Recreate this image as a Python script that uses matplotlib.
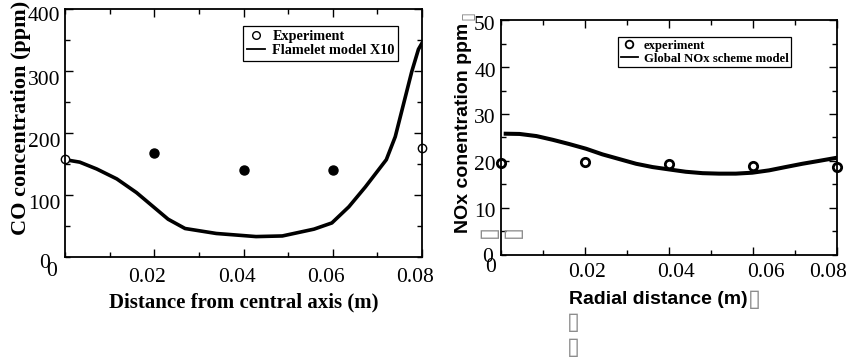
import matplotlib.pyplot as plt
import matplotlib.transforms as mtrans
from matplotlib.ticker import MultipleLocator
from matplotlib.lines import Line2D

# left panel: CO
co_exp_x = [0.0, 0.08]
co_exp_y = [158, 176]
co_fill_x = [0.02, 0.04, 0.06]
co_fill_y = [168, 140, 141]
co_mod_x = [0.0, 0.0033, 0.0071, 0.0116, 0.016, 0.0198, 0.0231, 0.0269, 0.0339,
            0.0428, 0.0487, 0.0558, 0.0598, 0.0636, 0.0673, 0.072, 0.074, 0.0777, 0.0792, 0.08]
co_mod_y = [157, 153, 142, 126, 104, 81, 61, 46, 38, 33, 34, 45, 55, 81, 113, 157, 194, 299, 335, 345]

# right panel: NOx
nox_exp_x = [0.0, 0.02, 0.04, 0.06, 0.08]
nox_exp_y = [19.6, 19.7, 19.4, 19.0, 18.8]
nox_mod_x = [0.0012, 0.0045, 0.0085, 0.0124, 0.0163, 0.0203, 0.0242, 0.0282, 0.0322, 0.0361,
             0.040, 0.044, 0.048, 0.0519, 0.0559, 0.0598, 0.0638, 0.0677, 0.0717, 0.0756, 0.080]
nox_mod_y = [25.8, 25.75, 25.3, 24.5, 23.6, 22.6, 21.4, 20.4, 19.4, 18.7,
             18.2, 17.7, 17.4, 17.3, 17.3, 17.5, 18.0, 18.7, 19.4, 20.0, 20.7]

serif = 'Liberation Serif'
sans = 'Liberation Sans'

fig = plt.figure(figsize=(8.5, 3.58), dpi=100)


def style(ax, ymaj, ymin):
    ax.xaxis.set_major_locator(MultipleLocator(0.02))
    ax.xaxis.set_minor_locator(MultipleLocator(0.01))
    ax.yaxis.set_major_locator(MultipleLocator(ymaj))
    ax.yaxis.set_minor_locator(MultipleLocator(ymin))
    ax.tick_params(which='both', direction='in', top=True, right=True, width=1)
    ax.tick_params(which='major', length=6, labelsize=15.5)
    ax.tick_params(which='minor', length=3.5)
    ax.tick_params(axis='x', pad=8)
    for s in ax.spines.values():
        s.set_linewidth(1.3)


def shift(labels, offs):
    # nudge tick labels by pixel offsets (dx right, dy down)
    for lab, (dx, dy) in zip(labels, offs):
        lab.set_fontfamily(serif)
        lab.set_transform(lab.get_transform() +
                          mtrans.ScaledTranslation(dx / 100, -dy / 100, fig.dpi_scale_trans))


# ---- left
ax1 = fig.add_axes([0.0765, 0.282, 0.42, 0.693])
ax1.plot(co_mod_x, co_mod_y, color='black', lw=2.6)
ax1.plot(co_exp_x, co_exp_y, 'o', mfc='white', mec='black', ms=6, mew=1, clip_on=False)
ax1.plot(co_fill_x, co_fill_y, 'o', color='black', ms=6.5, clip_on=False)
ax1.set_xlim(0, 0.08)
ax1.set_ylim(0, 400)
style(ax1, 100, 50)
ax1.set_xticks([0.02, 0.04, 0.06, 0.08])
ax1.set_xticklabels(['0.02', '0.04', '0.06', '0.08'])
ax1.set_yticks([100, 200, 300, 400])
ax1.set_yticklabels(['100', '200', '300', '400'])
shift(ax1.get_xticklabels(), [(-7, 0)] * 4)
shift(ax1.get_yticklabels(), [(0, 7), (0, 7), (0, 7), (0, 5)])
ax1.set_xlabel('Distance from central axis (m)', fontfamily=serif, fontweight='bold',
               fontsize=15, labelpad=4)
fig.text(0.025, 0.67, 'CO concentration (ppm)', rotation=90, ha='center', va='center',
         fontfamily=serif, fontweight='bold', fontsize=16)
fig.text(45 / 850, 1 - 263 / 358, '0', ha='center', va='center', fontfamily=serif, fontsize=15.5)
fig.text(52 / 850, 1 - 271 / 358, '0', ha='center', va='center', fontfamily=serif, fontsize=15.5)
h1 = [Line2D([], [], marker='o', ls='none', mfc='white', mec='black', ms=5.5),
      Line2D([], [], color='black', lw=1.3)]
leg1 = ax1.legend(h1, ['Experiment', 'Flamelet model X10'], loc='upper left',
                  bbox_to_anchor=(0.4986, 0.931), borderaxespad=0, fancybox=False,
                  edgecolor='black', framealpha=1, handlelength=1.3, handletextpad=0.5,
                  borderpad=0.25, labelspacing=0.1,
                  prop={'family': serif, 'weight': 'bold', 'size': 10.3})
leg1.get_frame().set_linewidth(0.9)

# ---- right
ax2 = fig.add_axes([0.589, 0.288, 0.396, 0.656])
ax2.plot(nox_mod_x, nox_mod_y, color='black', lw=2.9)
ax2.plot(nox_exp_x, nox_exp_y, 'o', mfc='white', mec='black', ms=6, mew=2, clip_on=False)
ax2.set_xlim(0, 0.08)
ax2.set_ylim(0, 50)
style(ax2, 10, 5)
ax2.set_xticks([0.02, 0.04, 0.06, 0.08])
ax2.set_xticklabels(['0.02', '0.04', '0.06', '0.08'])
ax2.set_yticks([10, 20, 30, 40, 50])
ax2.set_yticklabels(['10', '20', '30', '40', '50'])
shift(ax2.get_xticklabels(), [(2, -3), (7.5, -3), (12.7, -3), (-9, -3)])
shift(ax2.get_yticklabels(), [(0, 2.5)] * 5)
fig.text(488 / 850, 1 - 257 / 358, '0', ha='center', va='center', fontfamily=serif, fontsize=15.5)
fig.text(491 / 850, 1 - 267 / 358, '0', ha='center', va='center', fontfamily=serif, fontsize=15.5)
fig.text(569 / 850, 1 - 299 / 358, 'Radial distance (m)', ha='left', va='center',
         fontfamily=sans, fontweight='bold', fontsize=14)
fig.text(463 / 850, 1 - 128 / 358, 'NOx conentration ppm', rotation=90, ha='center',
         va='center', fontfamily=sans, fontweight='bold', fontsize=14)
# missing-glyph boxes as in the source image
box = dict(fontfamily='DejaVu Sans', color='#8c8c8c', ha='center', va='center', fontsize=17)
fig.text(754 / 850, 1 - 299 / 358, '\u25af', **box)
fig.text(573 / 850, 1 - 322 / 358, '\u25af', **box)
fig.text(573 / 850, 1 - 347 / 358, '\u25af', **box)
fig.text(467 / 850, 1 - 15 / 358, '\u25af', rotation=90, fontfamily='DejaVu Sans',
         color='#8c8c8c', ha='center', va='center', fontsize=12)
fig.text(488 / 850, 1 - 232 / 358, '\u25af', rotation=90, **box)
fig.text(512 / 850, 1 - 232 / 358, '\u25af', rotation=90, **box)
h2 = [Line2D([], [], marker='o', ls='none', mfc='white', mec='black', ms=5.5, mew=1.3),
      Line2D([], [], color='black', lw=1.3)]
leg2 = ax2.legend(h2, ['experiment', 'Global NOx scheme model'], loc='upper left',
                  bbox_to_anchor=(0.35, 0.928), borderaxespad=0, fancybox=False,
                  edgecolor='black', framealpha=1, handlelength=1.3, handletextpad=0.5,
                  borderpad=0.2, labelspacing=0.1,
                  prop={'family': serif, 'weight': 'bold', 'size': 9.2})
leg2.get_frame().set_linewidth(0.9)

fig.savefig('out.png', dpi=100)
